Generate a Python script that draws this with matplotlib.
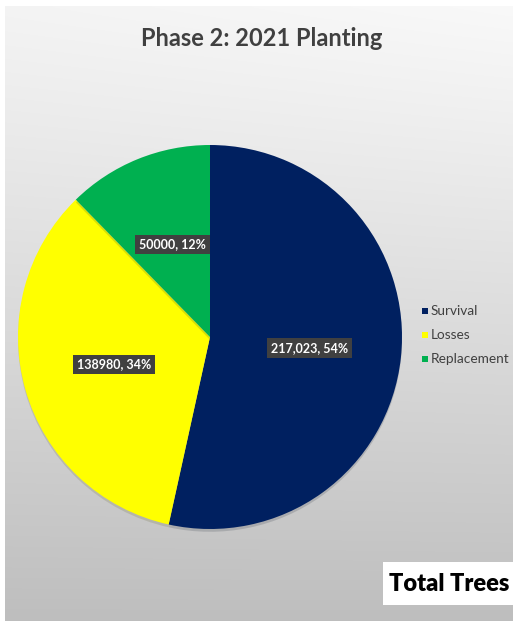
import numpy as np
import matplotlib
matplotlib.use('Agg')
import matplotlib.pyplot as plt
import matplotlib.patheffects as pe

plt.rcParams['font.family'] = ['Lato', 'DejaVu Sans']

categories = ['Survival', 'Losses', 'Replacement']
trees = [217023, 138980, 50000]
count_labels = ['217,023', '138980', '50000']
pct_labels = ['54%', '34%', '12%']
colors = ['#002060', '#FFFF00', '#00B050']

W, H = 513, 621
fig = plt.figure(figsize=(W / 100, H / 100), dpi=100)

# slide background: thin white margin, then a grey vertical gradient
bg = fig.add_axes([0, 0, 1, 1])
bg.set_axis_off()
yy = np.linspace(0, 1, 300)[:, None]
xx = np.linspace(0, 1, 300)[None, :]
shade = 0.955 - 0.21 * yy ** 1.1 + 0.02 * xx * (1 - yy)
grad = np.dstack([shade, shade, shade])
bg.imshow(grad, extent=[5, W, H, 6], aspect='auto', interpolation='bilinear')
bg.set_xlim(0, W)
bg.set_ylim(H, 0)

bg.text(262, 38, 'Phase 2: 2021 Planting', ha='center', va='center',
        fontsize=17, fontweight='bold', color='#404040')

# "Total Trees" box in the bottom right
bg.add_patch(plt.Rectangle((383, 562), 135, 43, facecolor='white', edgecolor='none'))
bg.text(449, 584, 'Total Trees', ha='center', va='center',
        fontsize=17, fontweight='heavy', color='black')

# pie
cx, cy, r = 210, 337, 192
ax = fig.add_axes([(cx - r) / W, (H - cy - r) / H, 2 * r / W, 2 * r / H])
wedges, _ = ax.pie(trees, colors=colors, startangle=90, counterclock=False,
                   radius=1, wedgeprops=dict(linewidth=0))
for w in wedges:
    w.set_path_effects([pe.SimplePatchShadow(offset=(0, -2), alpha=0.15), pe.Normal()])
ax.set_xlim(-1, 1)
ax.set_ylim(-1, 1)

for w, cnt, pct in zip(wedges, count_labels, pct_labels):
    mid = np.deg2rad((w.theta1 + w.theta2) / 2)
    rr = 0.52
    ax.text(rr * np.cos(mid), rr * np.sin(mid), f'{cnt}, {pct}',
            ha='center', va='center', fontsize=9, fontweight='bold', color='white',
            bbox=dict(boxstyle='square,pad=0.3', facecolor='#404040', edgecolor='none'))

# legend
leg_y = [311, 335, 359]
for cat, col, y in zip(categories, colors, leg_y):
    bg.add_patch(plt.Rectangle((422, y - 3), 6, 6, facecolor=col, edgecolor='none'))
    bg.text(431, y, cat, ha='left', va='center', fontsize=9.8, color='#404040')

fig.savefig('out.png', dpi=100)
